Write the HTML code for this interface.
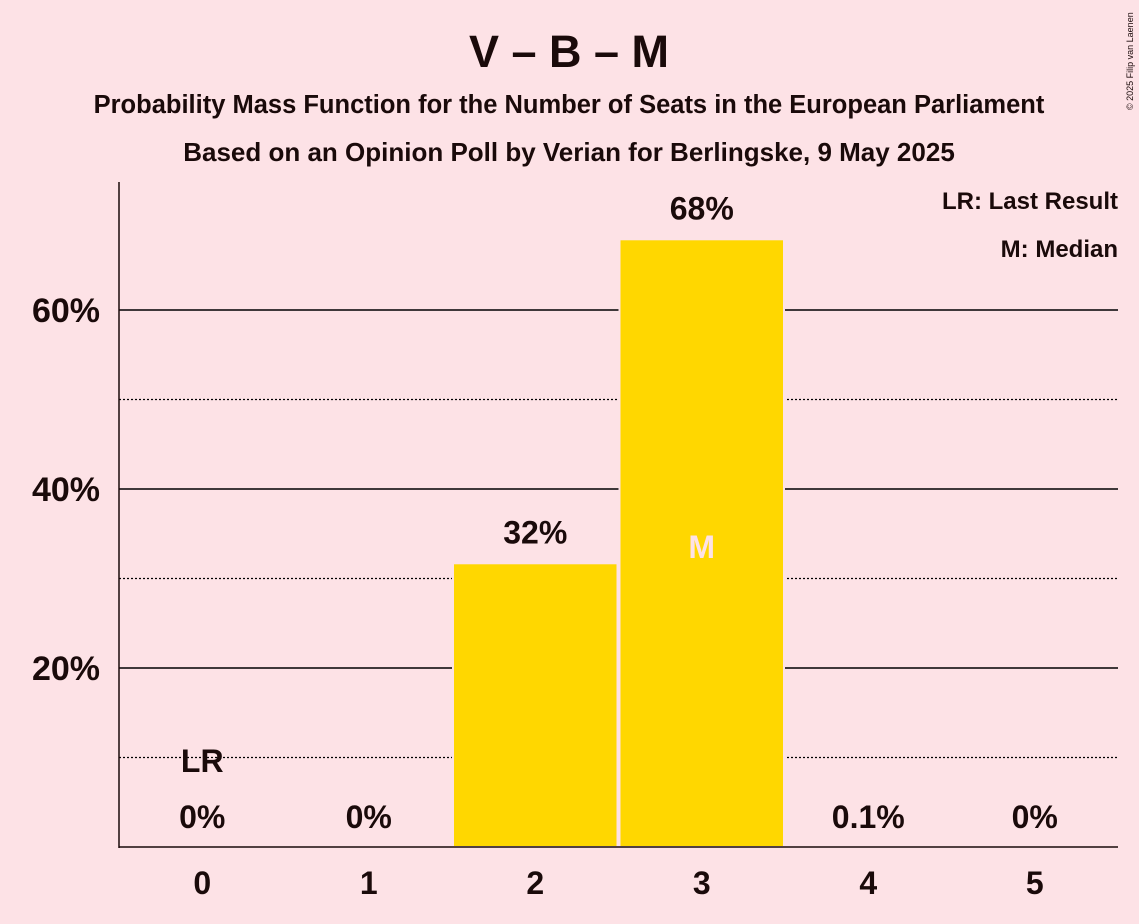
<!DOCTYPE html>
<html><head><meta charset="utf-8"><style>
html,body{margin:0;padding:0;background:#fde2e6;}
svg{display:block;font-family:"Liberation Sans",sans-serif;}
</style></head><body>
<svg id="chart" width="1139" height="924">
<rect width="1139" height="924" fill="#fde2e6"/>
<text x="569" y="67" text-anchor="middle" font-size="45" font-weight="bold" fill="#1a0a0a">V – B – M</text>
<text x="569" y="113" text-anchor="middle" font-size="25.5" font-weight="bold" fill="#1a0a0a">Probability Mass Function for the Number of Seats in the European Parliament</text>
<text x="569" y="161" text-anchor="middle" font-size="26" font-weight="bold" fill="#1a0a0a">Based on an Opinion Poll by Verian for Berlingske, 9 May 2025</text>
<text x="1133" y="110" font-size="9" fill="#1a0a0a" transform="rotate(-90 1133 110)">© 2025 Filip van Laenen</text>
<text x="1118" y="209" text-anchor="end" font-size="24" font-weight="bold" fill="#1a0a0a">LR: Last Result</text>
<text x="1118" y="257" text-anchor="end" font-size="24" font-weight="bold" fill="#1a0a0a">M: Median</text>
<g id="grid"></g><g id="bars"></g><g id="labels"></g>
<line x1="119" y1="182" x2="119" y2="848" stroke="#1a0a0a" stroke-width="1.5"/>
<line x1="119" y1="847" x2="1118" y2="847" stroke="#1a0a0a" stroke-width="1.5"/>
</svg>
<script>
const categories=[0,1,2,3,4,5];
const values=[0,0,31.7,67.9,0.1,0];
const valueLabels=["0%","0%","32%","68%","0.1%","0%"];
const yTicks=[20,40,60];
const yMinor=[10,30,50];
const lastResult=0, median=3;
const NS="http://www.w3.org/2000/svg";
const x0=119,x1=1118,y0=847,pxPer=179/20;
const bw=(x1-x0)/categories.length;
const X=i=>x0+bw*(i+0.5);
const Y=v=>y0-v*pxPer;
function mk(t,a,p){const e=document.createElementNS(NS,t);for(const k in a)e.setAttribute(k,a[k]);p.appendChild(e);return e;}
const grid=document.getElementById('grid'),bars=document.getElementById('bars'),labels=document.getElementById('labels');
yMinor.forEach(v=>{const l=mk('line',{x1:x0,x2:x1,y1:Y(v),y2:Y(v),stroke:'#000','stroke-width':1.2,'stroke-dasharray':'2,2'},grid);

});
yTicks.forEach(v=>{const l=mk('line',{x1:x0,x2:x1,y1:Y(v),y2:Y(v),stroke:'#000','stroke-width':1.5},grid);


const t=mk('text',{x:100,y:Y(v)+12,'text-anchor':'end','font-size':34,'font-weight':'bold',fill:'#1a0a0a'},labels);t.textContent=v+'%';

});
categories.forEach((c,i)=>{
 if(values[i]>0.5){const r=mk('rect',{x:X(i)-bw/2+1,y:Y(values[i]),width:bw-2,height:y0-Y(values[i]),fill:'#ffd700',stroke:'#fde2e6','stroke-width':2},bars);
 
 }
 const big=values[i]>5;
 const t=mk('text',{x:X(i),y:big?Y(values[i])-20:y0-19,'text-anchor':'middle','font-size':32,'font-weight':'bold',fill:'#1a0a0a'},labels);t.textContent=valueLabels[i];
 
 
 const xt=mk('text',{x:X(i),y:y0+47,'text-anchor':'middle','font-size':32,'font-weight':'bold',fill:'#1a0a0a'},labels);xt.textContent=c;
 
 
});
const lr=mk('text',{x:X(lastResult),y:772,'text-anchor':'middle','font-size':32,'font-weight':'bold',fill:'#1a0a0a'},labels);lr.textContent='LR';


const m=mk('text',{x:X(median),y:558,'text-anchor':'middle','font-size':32,'font-weight':'bold',fill:'#fde2e6'},labels);m.textContent='M';


</script>
</body></html>
